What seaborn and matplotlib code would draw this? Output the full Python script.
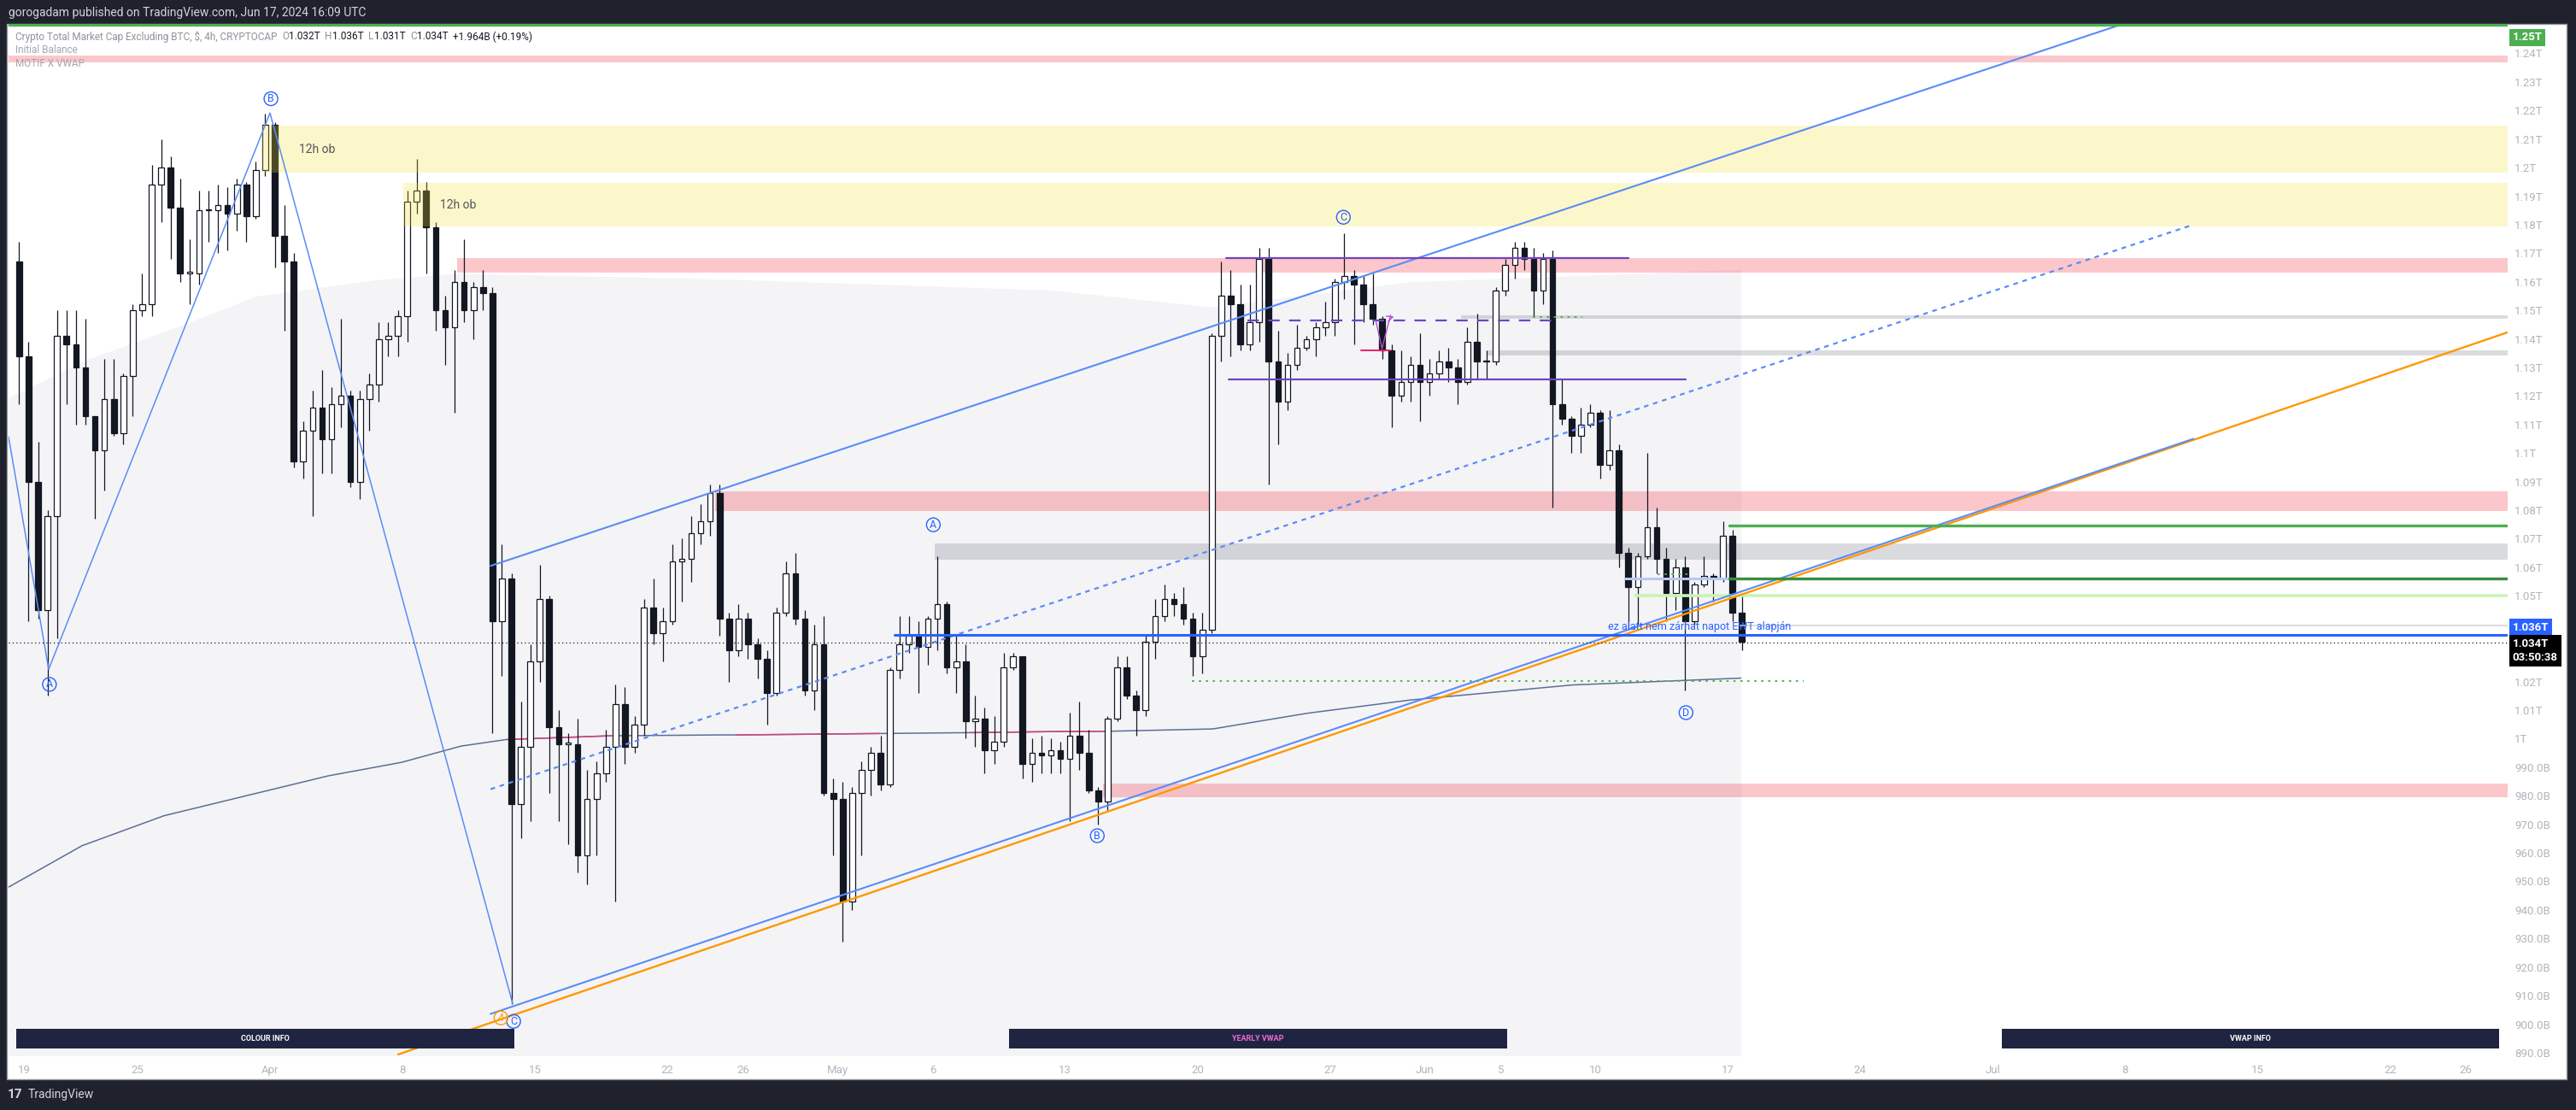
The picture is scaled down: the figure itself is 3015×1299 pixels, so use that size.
import numpy as np
import pandas as pd
import matplotlib
matplotlib.use("Agg")
import matplotlib.pyplot as plt
from matplotlib.patches import Rectangle
import seaborn as sns

# ─────────────────────────────────────────────────────────────
#  DATA  (prices in billions USD, time in days since 2024-03-19 00:00)
# ─────────────────────────────────────────────────────────────

BASE_DATE = pd.Timestamp("2024-03-19")
FIRST_CANDLE_DAY = -0.5          # first 12h candle opens Mar 18 12:00
CANDLE_SPAN = 0.5                # 12h candles
first_open = 1167

closes = [1134, 1090, 1045, 1078, 1141, 1138, 1130, 1113, 1101, 1119,
          1107, 1127, 1150, 1152, 1194, 1200, 1186, 1163, 1163, 1185,
          1185, 1187, 1184, 1194, 1183, 1199, 1215, 1176, 1167, 1097,
          1108, 1116, 1105, 1117, 1120, 1090, 1119, 1124, 1140, 1141,
          1148, 1188, 1192, 1179, 1150, 1144, 1160, 1150, 1158, 1156,
          1041, 1056, 977, 997, 1027, 1049, 1004, 998, 998, 959,
          979, 988, 997, 1012, 997, 1005, 1046, 1037, 1041, 1062,
          1063, 1072, 1076, 1086, 1042, 1031, 1042, 1033, 1028, 1016,
          1044, 1058, 1042, 1017, 1033, 981, 979, 943, 981, 989,
          995, 984, 1024, 1033, 1036, 1032, 1042, 1047, 1025, 1027,
          1006, 1007, 996, 999, 1025, 1029, 991, 995, 994, 996,
          993, 1001, 995, 982, 978, 1007, 1025, 1015, 1010, 1034,
          1043, 1049, 1047, 1042, 1029, 1038, 1141, 1155, 1152, 1138,
          1146, 1168, 1132, 1118, 1131, 1137, 1140, 1144, 1146, 1160,
          1162, 1159, 1152, 1147, 1136, 1120, 1125, 1131, 1125, 1128,
          1132, 1130, 1125, 1139, 1132, 1132, 1157, 1166, 1172, 1168,
          1157, 1168, 1117, 1112, 1106, 1110, 1114, 1096, 1101, 1065,
          1053, 1064, 1074, 1063, 1051, 1060, 1041, 1054, 1057, 1056,
          1071, 1044, 1034]

highs = [1174, 1139, 1104, 1080, 1150, 1150, 1150, 1147, 1113, 1133,
         1133, 1128, 1152, 1163, 1201, 1210, 1204, 1196, 1175, 1192,
         1192, 1194, 1193, 1196, 1195, 1202, 1219, 1216, 1187, 1170,
         1111, 1122, 1129, 1123, 1147, 1122, 1122, 1128, 1146, 1146,
         1150, 1192, 1203, 1195, 1181, 1155, 1164, 1175, 1160, 1164,
         1158, 1068, 1058, 1013, 1033, 1061, 1050, 1010, 1002, 1007,
         989, 992, 1003, 1019, 1018, 1008, 1049, 1056, 1046, 1068,
         1070, 1078, 1082, 1089, 1089, 1044, 1047, 1044, 1035, 1031,
         1046, 1062, 1065, 1045, 1040, 1043, 986, 985, 983, 992,
         997, 1001, 1025, 1043, 1043, 1041, 1043, 1064, 1048, 1036,
         1033, 1015, 1011, 1008, 1030, 1030, 1029, 1000, 1001, 1000,
         999, 1009, 1013, 1003, 983, 1008, 1029, 1029, 1017, 1036,
         1049, 1054, 1051, 1053, 1044, 1044, 1142, 1167, 1164, 1159,
         1159, 1172, 1172, 1143, 1135, 1145, 1141, 1146, 1153, 1161,
         1177, 1164, 1162, 1163, 1148, 1138, 1136, 1134, 1142, 1133,
         1136, 1137, 1133, 1144, 1149, 1136, 1158, 1168, 1174, 1174,
         1172, 1170, 1171, 1126, 1113, 1116, 1117, 1115, 1115, 1103,
         1067, 1065, 1100, 1081, 1067, 1063, 1064, 1055, 1064, 1058,
         1076, 1073, 1051]

lows = [1117, 1041, 1042, 1015, 1035, 1117, 1110, 1110, 1077, 1087,
        1106, 1103, 1113, 1148, 1148, 1181, 1168, 1160, 1152, 1159,
        1174, 1170, 1171, 1178, 1174, 1182, 1197, 1165, 1143, 1095,
        1091, 1078, 1093, 1093, 1109, 1088, 1084, 1108, 1118, 1134,
        1134, 1139, 1184, 1163, 1143, 1131, 1114, 1146, 1140, 1150,
        1002, 1022, 907, 965, 971, 1020, 981, 971, 963, 953,
        949, 959, 985, 943, 991, 995, 1001, 1033, 1027, 1040,
        1048, 1055, 1068, 1071, 1036, 1020, 1029, 1028, 1021, 1005,
        1015, 1043, 1040, 1015, 1010, 980, 959, 929, 940, 959,
        980, 982, 983, 1021, 1030, 1016, 1026, 1031, 1023, 1016,
        1000, 997, 988, 991, 997, 1024, 986, 985, 988, 988,
        988, 971, 989, 981, 970, 975, 1006, 1014, 1001, 1008,
        1028, 1041, 1043, 1040, 1022, 1023, 1037, 1132, 1134, 1136,
        1136, 1139, 1089, 1103, 1115, 1129, 1136, 1134, 1141, 1141,
        1154, 1138, 1146, 1145, 1133, 1109, 1118, 1118, 1111, 1120,
        1126, 1125, 1117, 1124, 1126, 1126, 1131, 1155, 1161, 1164,
        1148, 1152, 1081, 1110, 1100, 1100, 1109, 1091, 1094, 1060,
        1038, 1040, 1063, 1058, 1041, 1045, 1017, 1040, 1053, 1048,
        1055, 1041, 1031]

# light grey background band (session shading) upper edge
shade_days = [-0.81, 3.25, 7.77, 12.28, 18.6, 22.9, 36.66, 54.27, 62.7, 73.2, 90.7]
shade_top = [1119.5, 1132.6, 1143.4, 1155.0, 1160.7, 1163.0, 1161.0, 1157.1, 1151.2, 1160.0, 1164.3]

# anchored vwap
vwap_days = [-0.81, 3.07, 7.4, 11.74, 16.1, 19.95, 23.1, 25.5, 31.0, 36.7,
             37.6, 45.2, 50.0, 54.7, 57.4, 62.8, 67.8, 73.2, 81.8, 90.7]
vwap_vals = [948, 962.5, 973, 980, 987, 991.7, 997.4, 999.7, 1001, 1001.3,
             1001.3, 1001.8, 1002.1, 1002.5, 1002.6, 1003.4, 1008.9, 1013.5, 1018.8, 1021.2]

# zones: (start day, low, high)
pink_zones = [(-0.81, 1236.7, 1239.1), (22.9, 1163.1, 1168.2),
              (36.5, 1079.7, 1086.5), (57.0, 979.4, 984.2)]
grey_zones = [(48.1, 1062.6, 1068.3), (75.9, 1147.1, 1148.3), (77.3, 1134.1, 1135.9)]
ob_zones = [(12.6, 1198.1, 1214.8), (20.05, 1179.3, 1194.5)]
ob_label = "12h ob"

# wave zigzag (days, values)
zigzag_days = [-0.81, 1.31, 13.0, 25.82]
zigzag_vals = [1105.7, 1024.3, 1219.1, 907.2]

# channel lines ((d0, v0), (d1, v1))
channel_upper = [(24.65, 1060.5), (110.7, 1249.9)]
channel_mid = [(24.65, 982.3), (114.6, 1180.0)]
channel_lower = [(24.65, 903.6), (114.6, 1105.0)]
orange_line = [(19.77, 889.4), (131.2, 1142.3)]

# horizontal levels: (start, end, value)
purple_levels = [(63.48, 84.74, 1168.2), (63.66, 87.77, 1125.9)]
purple_dashed = (64.65, 80.81, 1146.5)
red_level = (70.65, 72.19, 1135.9)
arrow_days = [71.42, 71.74, 72.19]
arrow_vals = [1146.2, 1136.6, 1148.3]
blue_level = (46.0, 1036.4)
last_price = 1033.7
green_dotted = [(61.7, 94.0, 1020.3), (79.7, 82.3, 1147.7), (86.3, 88.0, 1057.6)]
green_levels = [(90.07, 1074.5), (90.1, 1056.0)]
light_green_level = (85.1, 1050.0)
light_blue_level = (84.6, 90.2, 1056.0)
light_grey_level = (90.65, 1039.7)
top_level = 1250.0

wave_labels = [("A", 1.35, 1019.0), ("B", 13.05, 1224.1), ("C", 25.87, 901.0),
               ("A", 48.04, 1074.9), ("B", 56.7, 966.0), ("C", 69.7, 1182.6),
               ("D", 87.8, 1009.1)]
orange_label = ("4", 25.2, 902.2)

note_text = "ez alatt nem zárhat napot EWT alapján"
note_pos = (83.66, 1039.3)

y_ticks = list(range(890, 1250, 10))
hidden_ticks = [1030, 1040]
tick_dates = ["2024-03-19", "2024-03-25", "2024-04-01", "2024-04-08", "2024-04-15",
              "2024-04-22", "2024-04-26", "2024-05-01", "2024-05-06", "2024-05-13",
              "2024-05-20", "2024-05-27", "2024-06-01", "2024-06-05", "2024-06-10",
              "2024-06-17", "2024-06-24", "2024-07-01", "2024-07-08", "2024-07-15",
              "2024-07-22", "2024-07-26"]
tick_labels = ["19", "25", "Apr", "8", "15", "22", "26", "May", "6", "13", "20", "27",
               "Jun", "5", "10", "17", "24", "Jul", "8", "15", "22", "26"]

header = "gorogadam published on TradingView.com, Jun 17, 2024 16:09 UTC"
symbol = "Crypto Total Market Cap Excluding BTC, $, 4h, CRYPTOCAP"
ohlc = [("O", "1.032T"), ("H", "1.036T"), ("L", "1.031T"), ("C", "1.034T")]
change = "+1.964B (+0.19%)"
indicators = ["Initial Balance", "MOTIF X VWAP"]

# ─────────────────────────────────────────────────────────────
#  STYLE
# ─────────────────────────────────────────────────────────────

sns.set_theme(style="white")
plt.rcParams["font.family"] = ["Roboto", "DejaVu Sans"]

DARK = "#1f222d"
INK = "#131722"
TICK = "#b2b5be"
BLUE = "#2962ff"
CH_BLUE = "#5b8cf5"

W, H = 3015, 1299
XMIN, XMAX = -0.81, 131.2
YMIN, YMAX = 889.1, 1250.3


def fx(px):
    return px / W


def fy(py):
    return 1 - py / H


def fmt_price(v):
    if v >= 1000:
        return f"{v / 1000:.2f}".rstrip("0").rstrip(".") + "T"
    return f"{v:.1f}B"


fig = plt.figure(figsize=(W / 100, H / 100), dpi=100, facecolor=DARK)
fig.patches.append(Rectangle((fx(8), fy(1263)), fx(3004) - fx(8), fy(28) - fy(1263),
                             transform=fig.transFigure, facecolor="white",
                             edgecolor="#9598a1", lw=1.0, zorder=-5))
ax = fig.add_axes([fx(10), fy(1235), fx(2935) - fx(10), fy(28) - fy(1235)])
ax.set_zorder(1)
ax.set_facecolor("white")
ax.set_xlim(XMIN, XMAX)
ax.set_ylim(YMIN, YMAX)
for s in ax.spines.values():
    s.set_visible(False)

# background shading
ax.fill_between(shade_days, shade_top, YMIN - 20, color="#f4f4f7", lw=0, zorder=0.5)

# zones
for d0, lo, hi in pink_zones:
    ax.fill_between([d0, XMAX], lo, hi, color="#f23645", alpha=0.28, lw=0, zorder=1)
for d0, lo, hi in grey_zones:
    ax.fill_between([d0, XMAX], lo, hi, color="#787b86", alpha=0.27, lw=0, zorder=1)
for d0, lo, hi in ob_zones:
    ax.fill_between([d0, XMAX], lo, hi, color="#f7e333", alpha=0.25, lw=0, zorder=5)
    ax.text(d0 + 2.9, (lo + hi) / 2, ob_label, fontsize=10, color="#55555a",
            ha="center", va="center", zorder=6)

# vwap
sns.lineplot(x=vwap_days, y=vwap_vals, ax=ax, color="#5d6f96", lw=1.1, sort=False,
             zorder=2, legend=False)
for a, b in [(7, 9), (10, 12), (12, 15)]:
    ax.plot(vwap_days[a:b], vwap_vals[a:b], color="#d4457f", lw=1.1, zorder=2.1)

# candles
df = pd.DataFrame({"close": closes, "high": highs, "low": lows})
df["open"] = [first_open] + closes[:-1]
df["t"] = FIRST_CANDLE_DAY + CANDLE_SPAN * np.arange(len(df)) + CANDLE_SPAN / 2
up = df[df["close"] >= df["open"]]
dn = df[df["close"] < df["open"]]
ax.vlines(df["t"], df["low"], df["high"], color=INK, lw=0.9, zorder=3)
ax.bar(up["t"], (up["close"] - up["open"]).clip(lower=0.5), bottom=up["open"],
       width=0.3, facecolor="white", edgecolor=INK, lw=0.9, zorder=4)
ax.bar(dn["t"], dn["open"] - dn["close"], bottom=dn["close"], width=0.3,
       facecolor=INK, edgecolor=INK, lw=0.9, zorder=4)

# wave / channel lines
ax.plot(zigzag_days, zigzag_vals, color=CH_BLUE, lw=1.1, zorder=6)
for (d0, v0), (d1, v1) in [channel_upper, channel_lower]:
    ax.plot([d0, d1], [v0, v1], color=CH_BLUE, lw=1.5, zorder=6)
(d0, v0), (d1, v1) = channel_mid
ax.plot([d0, d1], [v0, v1], color=CH_BLUE, lw=1.6, ls=(0, (2.5, 2.5)), zorder=6)
(d0, v0), (d1, v1) = orange_line
ax.plot([d0, d1], [v0, v1], color="#ff9800", lw=1.7, zorder=5.9)

# horizontal levels
for d0, d1, v in purple_levels:
    ax.plot([d0, d1], [v, v], color="#7044c4", lw=1.6, zorder=6)
d0, d1, v = purple_dashed
ax.plot([d0, d1], [v, v], color="#7044c4", lw=1.6, ls=(0, (6, 5)), zorder=6)
d0, d1, v = red_level
ax.plot([d0, d1], [v, v], color="#e91e63", lw=1.4, zorder=6)
ax.plot(arrow_days, arrow_vals, color="#b04fd0", lw=1.0, zorder=6)
ax.annotate("", xy=(arrow_days[-1] + 0.3, arrow_vals[-1] - 0.2),
            xytext=(arrow_days[-1] - 0.05, arrow_vals[-1] - 1.0),
            arrowprops=dict(arrowstyle="->", color="#b04fd0", lw=1.0), zorder=6)

ax.plot([blue_level[0], XMAX], [blue_level[1]] * 2, color=BLUE, lw=2.2, zorder=6)
ax.axhline(last_price, color=INK, lw=0.9, ls=(0, (1, 2.5)), zorder=6)
ax.axhline(top_level, color="#4caf50", lw=2.4, zorder=6)
for d0, d1, v in green_dotted:
    ax.plot([d0, d1], [v, v], color="#4caf50", lw=1.3, ls=(0, (1.5, 3)), zorder=6)
ax.plot([green_levels[0][0], XMAX], [green_levels[0][1]] * 2, color="#4caf50", lw=2.4, zorder=6)
ax.plot([green_levels[1][0], XMAX], [green_levels[1][1]] * 2, color="#388e3c", lw=2.4, zorder=6)
ax.plot([light_green_level[0], XMAX], [light_green_level[1]] * 2, color="#c9f4b3", lw=2.6, zorder=5.8)
d0, d1, v = light_blue_level
ax.plot([d0, d1], [v, v], color="#b7c9f2", lw=2.2, zorder=5.8)
ax.plot([light_grey_level[0], XMAX], [light_grey_level[1]] * 2, color="#d9d9dc", lw=1.3, zorder=5.8)

# wave labels
for letter, d, v in wave_labels:
    ax.text(d, v, letter, ha="center", va="center", fontsize=9, color=BLUE, zorder=7,
            bbox=dict(boxstyle="circle,pad=0.12", fc="none", ec=BLUE, lw=1.0))
letter, d, v = orange_label
ax.text(d, v, letter, ha="center", va="center", fontsize=9, color="#ff9800", zorder=7,
        bbox=dict(boxstyle="circle,pad=0.12", fc="none", ec="#ff9800", lw=1.0))

ax.text(note_pos[0], note_pos[1], note_text, color=BLUE, fontsize=9, ha="left",
        va="center", zorder=7)

# info tables at bottom
for x0, x1, label, col in [(0.003, 0.2024, "COLOUR INFO", "white"),
                           (0.4003, 0.5996, "YEARLY VWAP", "#f06cd8"),
                           (0.7976, 0.9966, "VWAP INFO", "white")]:
    ax.add_patch(Rectangle((x0, 0.0066), x1 - x0, 0.0191, transform=ax.transAxes,
                           facecolor="#1f2541", edgecolor="none", zorder=8))
    ax.text((x0 + x1) / 2, 0.0161, label, transform=ax.transAxes, ha="center",
            va="center", color=col, fontsize=6.5, fontweight="bold", zorder=9)

# axes ticks
ax.yaxis.tick_right()
shown = [t for t in y_ticks if t not in hidden_ticks]
ax.set_yticks(shown)
ax.set_yticklabels([fmt_price(t) for t in shown])
ax.tick_params(axis="y", length=0, pad=6, labelsize=9.5, labelcolor=TICK)
ax.set_xticks((pd.to_datetime(tick_dates) - BASE_DATE).days)
ax.set_xticklabels(tick_labels)
ax.tick_params(axis="x", length=0, pad=8, labelsize=9.5, labelcolor=TICK)
ax.grid(False)

# price labels on the scale
box_kw = dict(xycoords=("axes fraction", "data"), textcoords="offset points",
              ha="left", annotation_clip=False, fontsize=9.5, color="white",
              fontweight="bold", zorder=10)
ax.annotate(fmt_price(top_level), xy=(1.0, top_level), xytext=(4, -6), va="top",
            bbox=dict(boxstyle="square,pad=0.25", fc="#4caf50", ec="none"), **box_kw)
ax.annotate(f"{blue_level[1] / 1000:.3f}T", xy=(1.0, blue_level[1]), xytext=(4, 6),
            va="center", bbox=dict(boxstyle="square,pad=0.3", fc=BLUE, ec="none"), **box_kw)
ax.annotate(f"{last_price / 1000:.3f}T\n03:50:38", xy=(1.0, blue_level[1]), xytext=(4, -3),
            va="top", linespacing=1.35,
            bbox=dict(boxstyle="square,pad=0.3", fc="black", ec="none"), **box_kw)

# header and legend (pieces chained left to right)
fig.text(fx(10), fy(15), header, color="#d1d4dc", fontsize=10, va="center")
renderer = fig.canvas.get_renderer()
legend_parts = [(symbol + "  ", "#8f929b")]
for k, val in ohlc:
    legend_parts += [(k, "#8f929b"), (val + "  ", INK)]
legend_parts.append((change, INK))
x_px = 18
for txt, col in legend_parts:
    t = fig.text(fx(x_px), fy(43), txt, color=col, fontsize=8.5, va="center")
    x_px += t.get_window_extent(renderer).width
for i, name in enumerate(indicators):
    fig.text(fx(18), fy(59 + 16 * i), name, color="#a3a6af", fontsize=8.5, va="center")

fig.text(fx(9), fy(1281), "17", color="#d1d4dc", fontsize=11, fontweight="bold", va="center")
fig.text(fx(33), fy(1281), "TradingView", color="#d1d4dc", fontsize=10, va="center")

fig.savefig("out.png", dpi=100, facecolor=DARK)
